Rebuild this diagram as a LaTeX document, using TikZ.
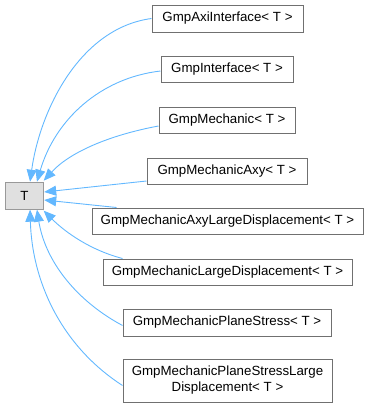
\documentclass[tikz,border=0pt]{standalone}
\usepackage{fontspec}
\setmainfont{Liberation Sans}
\usetikzlibrary{arrows.meta}
\definecolor{edgeblue}{RGB}{99,184,255}
\definecolor{boxline}{RGB}{112,112,112}
\definecolor{tline}{RGB}{153,153,153}
\definecolor{tfill}{RGB}{224,224,224}
\begin{document}
\begin{tikzpicture}[x=1pt,y=-1pt,
  box/.style={draw=boxline, line width=1pt, fill=white, inner sep=0pt, align=center,
    font=\fontsize{13.3pt}{16pt}\selectfont},
  tbox/.style={draw=tline, line width=1pt, fill=tfill, inner sep=0pt,
    font=\fontsize{13.3pt}{16pt}\selectfont},
  inh/.style={draw=edgeblue, line width=0.9pt,
    {Triangle[length=12pt,width=10pt,fill=edgeblue]}-}]
\useasboundingbox (0,0) rectangle (368,408);
\node[tbox, minimum width=38.7pt, minimum height=27pt] (t) at (24.35,195.7) {T};
\node[box, minimum width=151pt, minimum height=27pt] (b1) at (227.5,18.5) {GmpAxiInterface< T >};
\node[box, minimum width=132pt, minimum height=26pt] (b2) at (227,69) {GmpInterface< T >};
\node[box, minimum width=136pt, minimum height=26pt] (b3) at (227,120) {GmpMechanic< T >};
\node[box, minimum width=160pt, minimum height=26pt] (b4) at (227,171) {GmpMechanicAxy< T >};
\node[box, minimum width=271pt, minimum height=26pt] (b5) at (227.5,221) {GmpMechanicAxyLargeDisplacement< T >};
\node[box, minimum width=249pt, minimum height=26pt] (b6) at (227.5,272) {GmpMechanicLargeDisplacement< T >};
\node[box, minimum width=208pt, minimum height=27pt] (b7) at (227,322.5) {GmpMechanicPlaneStress< T >};
\node[box, minimum width=209pt, minimum height=43pt] (b8) at (227.5,380.5) {GmpMechanicPlaneStressLarge\\Displacement< T >};
\draw[inh] ([xshift=5.7pt]t.north) .. controls (40,110) and (80,28) .. (b1.west);
\draw[inh] ([xshift=12.6pt]t.north) .. controls (55,120) and (100,78) .. ([yshift=-2pt]b2.west);
\draw[inh] ([xshift=-0.5pt,yshift=1pt]t.north east) .. controls (70,152) and (110,135) .. ([yshift=-6pt]b3.west);
\draw[inh] ([yshift=3.7pt]t.east) -- ([yshift=-10pt]b4.west);
\draw[inh] ([yshift=-4.3pt]t.east) -- ([xshift=25pt]b5.north west);
\draw[inh] ([xshift=-0.5pt,yshift=-1pt]t.south east) .. controls (65,232) and (90,250) .. ([xshift=20pt]b6.north west);
\draw[inh] ([xshift=12.6pt]t.south) .. controls (45,260) and (75,300) .. ([yshift=-3pt]b7.west);
\draw[inh] ([xshift=5.7pt]t.south) .. controls (32,280) and (60,345) .. ([yshift=-5pt]b8.west);
\end{tikzpicture}
\end{document}
